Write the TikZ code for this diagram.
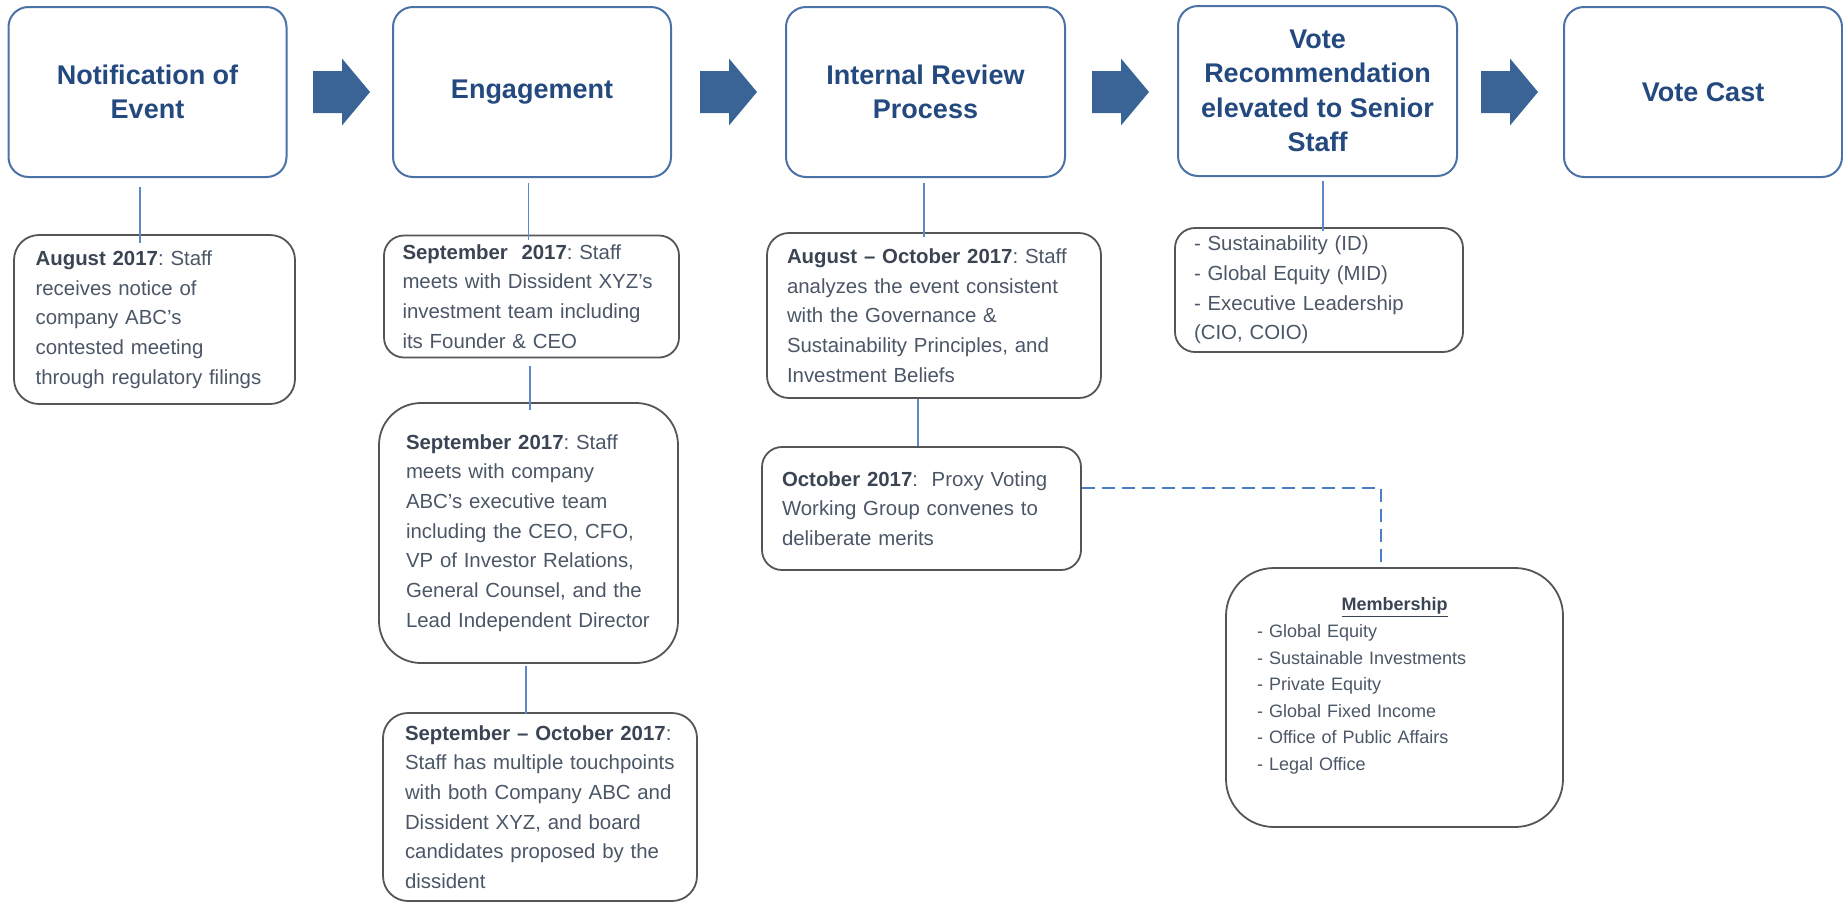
\documentclass[tikz,border=0pt]{standalone}
\usepackage{fontspec}
\setmainfont{Liberation Sans}
\definecolor{titleblue}{HTML}{23497F}
\definecolor{boxblue}{HTML}{4A72A6}
\definecolor{arrowfill}{HTML}{3A6496}
\definecolor{connblue}{HTML}{5A8ACB}
\definecolor{dashblue}{HTML}{4A7FC8}
\definecolor{subgray}{HTML}{555555}
\definecolor{bodytext}{HTML}{4B5666}
\definecolor{boldtext}{HTML}{3B4453}
\newcommand\boldlead[1]{\textcolor{boldtext}{\textbf{#1}}}
\frenchspacing
\begin{document}
\begin{tikzpicture}[x=1pt,y=-1pt,
  top/.style={draw=boxblue, line width=2pt, rounded corners=20pt, align=center,
    font=\bfseries\fontsize{27}{34.5}\selectfont, text=titleblue, inner sep=0pt,
    minimum height=170pt},
  sub/.style={draw=subgray, line width=1.8pt, align=left,
    font=\fontsize{20.4}{29.7}\selectfont, text=bodytext, inner ysep=0pt},
  conn/.style={draw=connblue, line width=1.5pt},
  dconn/.style={draw=dashblue, line width=2pt, dash pattern=on 13pt off 7pt},
  barrow/.pic={\fill[arrowfill] (0,-21) -- (29,-21) -- (29,-33.5) -- (57,0) -- (29,33.5) -- (29,21) -- (0,21) -- cycle;}]
\useasboundingbox (0,0) rectangle (1843,903);

% top process boxes
\node[top, minimum width=278pt] (n1) at (147.5,92) {Notification of\\Event};
\node[top, minimum width=278pt] (n2) at (532,92) {Engagement};
\node[top, minimum width=279pt] (n3) at (925.5,92) {Internal Review\\Process};
\node[top, minimum width=279pt] (n4) at (1317.5,91) {Vote\\Recommendation\\elevated to Senior\\Staff};
\node[top, minimum width=278pt] (n5) at (1703,92) {Vote Cast};

% block arrows
\pic at (313,92) {barrow};
\pic at (700,92) {barrow};
\pic at (1092,92) {barrow};
\pic at (1481,92) {barrow};

% detail boxes
\node[sub, rounded corners=25pt, text width=237.8pt, inner xsep=21.6pt, minimum height=169pt] (a1) at (154.5,319.5)
  {\boldlead{August 2017}: Staff\\receives notice of\\company ABC’s\\contested meeting\\through regulatory filings};

\node[sub, rounded corners=20pt, text width=258pt, inner xsep=18.5pt, minimum height=122pt] (e1) at (531.5,296.5)
  {\boldlead{September\ \ 2017}: Staff\\meets with Dissident XYZ’s\\investment team including\\its Founder \& CEO};

\node[sub, rounded corners=42pt, text width=245pt, inner xsep=27pt, minimum height=260pt] (e2) at (528.5,533)
  {\boldlead{September 2017}: Staff\\meets with company\\ABC’s executive team\\including the CEO, CFO,\\VP of Investor Relations,\\General Counsel, and the\\Lead Independent Director};

\node[sub, rounded corners=25pt, text width=270pt, inner xsep=22pt, minimum height=188pt] (e3) at (540,807)
  {\boldlead{September – October 2017}:\\Staff has multiple touchpoints\\with both Company ABC and\\Dissident XYZ, and board\\candidates proposed by the\\dissident};

\node[sub, rounded corners=22pt, text width=294pt, inner xsep=20pt, minimum height=165pt] (i1) at (934,315.5)
  {\boldlead{August – October 2017}: Staff\\analyzes the event consistent\\with the Governance \&\\Sustainability Principles, and\\Investment Beliefs};

\node[sub, rounded corners=20pt, text width=279pt, inner xsep=20pt, minimum height=123pt] (i2) at (921.5,508.5)
  {\boldlead{October 2017}:\ \ Proxy Voting\\Working Group convenes to\\deliberate merits};

\node[sub, rounded corners=20pt, text width=250pt, inner xsep=19pt, minimum height=124pt] (v1) at (1319,290)
  {- Sustainability (ID)\\- Global Equity (MID)\\- Executive Leadership\\(CIO, COIO)};

\node[sub, rounded corners=48pt, text width=275pt, inner xsep=31pt, minimum height=259pt,
  font=\fontsize{18}{26.6}\selectfont] (mem) at (1394.5,697.5)
  {\makebox[275pt]{\textcolor{boldtext}{\underline{\textbf{Membership}}}}\\- Global Equity\\- Sustainable Investments\\- Private Equity\\- Global Fixed Income\\- Office of Public Affairs\\- Legal Office\\\mbox{}};

% connectors
\draw[conn] ([xshift=-7.5pt,yshift=-9pt]n1.south) -- ([xshift=-7.5pt,yshift=-9pt]n1.south |- a1.north);
\draw[conn] ([xshift=-3.5pt,yshift=-5pt]n2.south) -- ([xshift=-3.5pt,yshift=-5pt]n2.south |- e1.north);
\draw[conn] ([xshift=-1.5pt,yshift=-8pt]e1.south) -- ([xshift=-1.5pt,yshift=-8pt]e1.south |- e2.north);
\draw[conn] ([xshift=-2.5pt,yshift=-2pt]e2.south) -- ([xshift=-2.5pt,yshift=-2pt]e2.south |- e3.north);
\draw[conn] ([xshift=-1.5pt,yshift=-5pt]n3.south) -- ([xshift=-1.5pt,yshift=-5pt]n3.south |- i1.north);
\draw[conn] ([xshift=-16pt]i1.south) -- ([xshift=-16pt]i1.south |- i2.north);
\draw[conn] ([xshift=5.5pt,yshift=-4pt]n4.south) -- ([xshift=5.5pt,yshift=-4pt]n4.south |- v1.north);
\draw[dconn] ([yshift=20.5pt]i2.east) -| ([xshift=-13.5pt]mem.north);
\end{tikzpicture}
\end{document}
